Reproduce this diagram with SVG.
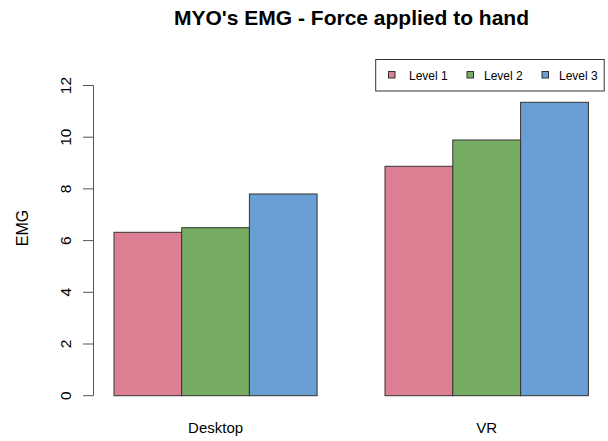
<svg xmlns="http://www.w3.org/2000/svg" width="608" height="441" viewBox="0 0 608 441">
<style>
text{font-family:"Liberation Sans",Arial,sans-serif;fill:#000}
.title{font-size:21px;font-weight:bold;text-anchor:middle}
.tick{font-size:15.5px;text-anchor:middle}
.lab{font-size:15px;text-anchor:middle}
.ylab{font-size:16px;text-anchor:middle}
.leg{font-size:12px}
.bar{stroke:#333;stroke-width:1}
.l1{fill:#DC7F92}.l2{fill:#77AD63}.l3{fill:#6A9FD6}
.ax{stroke:#555;stroke-width:1;fill:none}
</style>
<rect width="608" height="441" fill="#fff"/>
<text class="title" x="351.5" y="25">MYO's EMG - Force applied to hand</text>
<g id="axis">
<path class="ax" d="M93.5 85.5V395.7M83 85.5H93.5M83 137.2H93.5M83 188.9H93.5M83 240.6H93.5M83 292.3H93.5M83 344H93.5M83 395.7H93.5"/>
<text class="tick" transform="translate(70.5,395.7) rotate(-90)">0</text>
<text class="tick" transform="translate(70.5,344) rotate(-90)">2</text>
<text class="tick" transform="translate(70.5,292.3) rotate(-90)">4</text>
<text class="tick" transform="translate(70.5,240.6) rotate(-90)">6</text>
<text class="tick" transform="translate(70.5,188.9) rotate(-90)">8</text>
<text class="tick" transform="translate(70.5,137.2) rotate(-90)">10</text>
<text class="tick" transform="translate(70.5,85.5) rotate(-90)">12</text>
<text class="ylab" transform="translate(28,228) rotate(-90)">EMG</text>
</g>
<g id="desktop">
<rect class="bar l1" x="114" y="232.3" width="67.7" height="163.4"/>
<rect class="bar l2" x="181.7" y="227.7" width="67.7" height="168"/>
<rect class="bar l3" x="249.4" y="194" width="67.7" height="201.7"/>
<text class="lab" x="215.6" y="433">Desktop</text>
</g>
<g id="vr">
<rect class="bar l1" x="385" y="166.3" width="67.8" height="229.4"/>
<rect class="bar l2" x="452.8" y="140" width="67.8" height="255.7"/>
<rect class="bar l3" x="520.6" y="102.3" width="67.8" height="293.4"/>
<text class="lab" x="486.7" y="433">VR</text>
</g>
<g id="legend">
<rect x="375.7" y="59.5" width="228.5" height="31.5" fill="#fff" stroke="#333" stroke-width="1"/>
<rect class="bar l1" x="388.5" y="71.5" width="6.5" height="6.5"/>
<text class="leg" x="409" y="79.5">Level 1</text>
<rect class="bar l2" x="467" y="71.5" width="6.5" height="6.5"/>
<text class="leg" x="484" y="79.5">Level 2</text>
<rect class="bar l3" x="542" y="71.5" width="6.5" height="6.5"/>
<text class="leg" x="559" y="79.5">Level 3</text>
</g>
</svg>
